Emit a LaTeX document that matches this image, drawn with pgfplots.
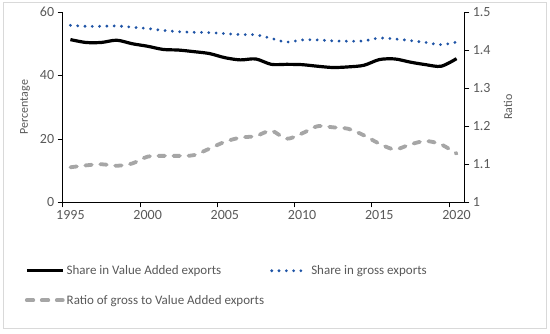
\documentclass[border=0pt]{standalone}
\usepackage{fontspec}
\setmainfont{Carlito}
\usepackage{pgfplots}
\usepackage{pgfplotstable}
\pgfplotsset{compat=1.18}
\definecolor{tickgray}{RGB}{89,89,89}
\definecolor{dotblue}{RGB}{31,84,166}
\definecolor{dashgray}{RGB}{166,166,166}
\definecolor{framegray}{RGB}{217,217,217}
\newcommand{\tickfont}{\fontsize{14}{16}\selectfont}
\newcommand{\labfont}{\fontsize{12}{14}\selectfont}
\newcommand{\legfont}{\fontsize{13}{15}\selectfont}
\newcommand{\tl}[1]{\hbox{\tickfont\color{tickgray}#1}}

\pgfplotstableread{
year va gross ratio
1995 51.3 55.8 1.092
1996 50.4 55.5 1.097
1997 50.4 55.5 1.100
1998 51.1 55.6 1.096
1999 50.0 55.2 1.102
2000 49.2 54.8 1.120
2001 48.2 54.2 1.122
2002 48.0 53.8 1.122
2003 47.5 53.6 1.124
2004 46.9 53.5 1.141
2005 45.6 53.2 1.159
2006 44.9 52.9 1.170
2007 45.2 52.8 1.174
2008 43.5 51.7 1.188
2009 43.5 50.5 1.167
2010 43.4 51.2 1.181
2011 42.9 51.2 1.200
2012 42.5 50.9 1.197
2013 42.7 50.8 1.193
2014 43.2 50.9 1.176
2015 45.0 51.8 1.154
2016 45.2 51.5 1.139
2017 44.2 51.0 1.152
2018 43.4 50.4 1.161
2019 42.9 49.7 1.152
2020 45.3 50.5 1.128
}\data

\pgfplotsset{
  common/.style={
    scale only axis, width=401.6pt, height=190.3pt,
    at={(62.7pt,130.7pt)}, anchor=south west,
    xmin=1994.5, xmax=2020.5,
    tick align=outside, major tick length=5pt,
    tick style={black, line width=0.7pt},
    axis line style={black, line width=0.9pt},
    /pgf/number format/assume math mode=true,
    legend image code/.code={\draw[##1] (0pt,0pt) -- (36pt,0pt);},
  },
  vastyle/.style={black, line width=3.2pt, smooth},
  grossstyle/.style={dotblue, line width=3.1pt, line cap=round, dash pattern=on 0pt off 7.3pt, smooth},
  ratiostyle/.style={dashgray, line width=3.8pt, line cap=round, dash pattern=on 6.5pt off 8.5pt, smooth},
}

\begin{document}
\begin{tikzpicture}[x=1pt,y=1pt]
\path[use as bounding box] (0,0) rectangle (550,333);
\draw[framegray, line width=0.9pt] (3.5,4.5) rectangle (546,330.5);
\begin{axis}[common,
  axis x line*=bottom, axis y line*=left,
  ymin=0, ymax=60, ytick={0,20,40,60},
  xtick={1994.5,1999.5,2004.5,2009.5,2014.5,2019.5},
  xticklabels={\tl{1995},\tl{2000},\tl{2005},\tl{2010},\tl{2015},\tl{2020}},
  xticklabel style={xshift=7.72pt},
  yticklabel={\tl{\pgfmathprintnumber{\tick}}},
  ylabel={\labfont Percentage},
  every axis y label/.style={at={(axis description cs:-0.0939,0.5)}, rotate=90, anchor=center, text=tickgray},
]
\addplot[vastyle] table[x=year,y=va]{\data};
\addplot[grossstyle] table[x=year,y=gross]{\data};
\end{axis}
\begin{axis}[common,
  axis y line*=right, axis x line=none,
  ymin=1, ymax=1.5, ytick={1,1.1,1.2,1.3,1.4,1.5},
  yticklabel={\tl{\pgfmathprintnumber{\tick}}},
  ylabel={\labfont Ratio},
  every axis y label/.style={at={(axis description cs:1.1088,0.5)}, rotate=90, anchor=center, text=tickgray},
  legend columns=2,
  legend cell align=left,
  legend style={draw=none, fill=none, at={(axis description cs:0,0)}, anchor=north west,
    xshift=-41pt, yshift=-59pt, font=\legfont, text=tickgray,
    row sep=15pt,
    /tikz/every even column/.append style={column sep=4pt}},
]
\addlegendimage{vastyle}
\addlegendentry{Share in Value Added exports}
\addlegendimage{grossstyle}
\addlegendentry{Share in gross exports}
\addplot[ratiostyle] table[x=year,y=ratio]{\data};
\addlegendentry{Ratio of gross to Value Added exports}
\end{axis}
\end{tikzpicture}
\end{document}
